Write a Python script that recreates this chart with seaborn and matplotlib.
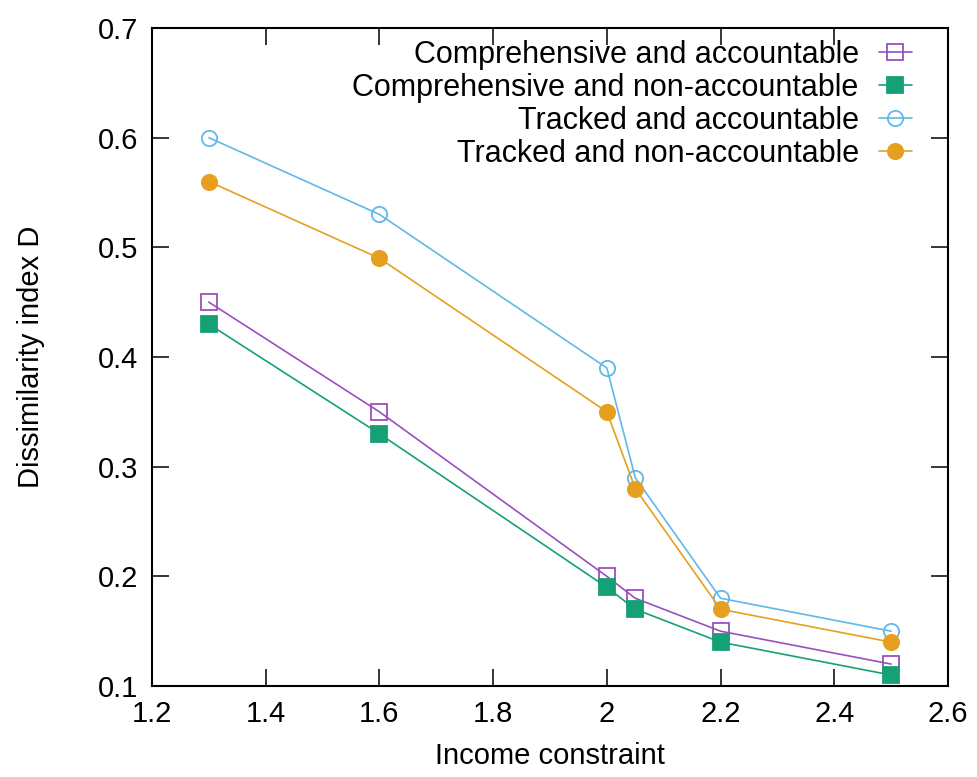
import pandas as pd
import seaborn as sns
import matplotlib.pyplot as plt

# values
income = [1.3, 1.6, 2.0, 2.05, 2.2, 2.5]
comp_acc = [0.45, 0.35, 0.20, 0.18, 0.15, 0.12]
comp_nonacc = [0.43, 0.33, 0.19, 0.17, 0.14, 0.11]
track_acc = [0.60, 0.53, 0.39, 0.29, 0.18, 0.15]
track_nonacc = [0.56, 0.49, 0.35, 0.28, 0.17, 0.14]

labels = ["Comprehensive and accountable", "Comprehensive and non-accountable",
          "Tracked and accountable", "Tracked and non-accountable"]
series = [comp_acc, comp_nonacc, track_acc, track_nonacc]
colors = ["#9a4fbf", "#16a076", "#60b8ea", "#e69f1e"]
markers = ["s", "s", "o", "o"]
filled = [False, True, False, True]

sns.set_style("ticks")
plt.rcParams['font.family'] = ['Liberation Sans', 'DejaVu Sans']
plt.rcParams['text.color'] = 'black'
plt.rcParams['axes.labelcolor'] = 'black'

fig = plt.figure(figsize=(9.78, 7.77), dpi=100)
ax = fig.add_axes([0.1554, 0.1171, 0.8139, 0.8469])

for lab, vals, col, mk, fill in zip(labels, series, colors, markers, filled):
    df = pd.DataFrame({"x": income, "y": vals})
    sns.lineplot(data=df, x="x", y="y", ax=ax, color=col, marker=mk,
                 markersize=11, linewidth=1.2, label=lab,
                 markerfacecolor=col if fill else "none",
                 markeredgecolor=col, markeredgewidth=1.3)

ax.set_xlim(1.2, 2.6)
ax.set_ylim(0.1, 0.7)
ax.set_xticks([1.2, 1.4, 1.6, 1.8, 2.0, 2.2, 2.4, 2.6])
ax.set_xticklabels(["1.2", "1.4", "1.6", "1.8", "2", "2.2", "2.4", "2.6"])
ax.set_yticks([0.1, 0.2, 0.3, 0.4, 0.5, 0.6, 0.7])
ax.set_yticklabels(["0.1", "0.2", "0.3", "0.4", "0.5", "0.6", "0.7"])
ax.tick_params(direction="in", length=12, width=1.1, labelsize=21,
               top=True, right=True, pad=10, colors="black")
for s in ax.spines.values():
    s.set_visible(True)
    s.set_linewidth(1.5)
    s.set_color("black")

ax.set_xlabel("Income constraint", fontsize=21, labelpad=10)
ax.set_ylabel("Dissimilarity index D", fontsize=21, labelpad=38)

leg = ax.legend(loc="upper right", bbox_to_anchor=(0.955, 0.982), frameon=False,
                markerfirst=False, fontsize=22, handlelength=1.1,
                labelspacing=0.1, handletextpad=0.65, borderaxespad=0,
                borderpad=0)
for t in leg.get_texts():
    t.set_ha("right")
leg._legend_box.align = "right"

fig.savefig("out.png", dpi=100)
